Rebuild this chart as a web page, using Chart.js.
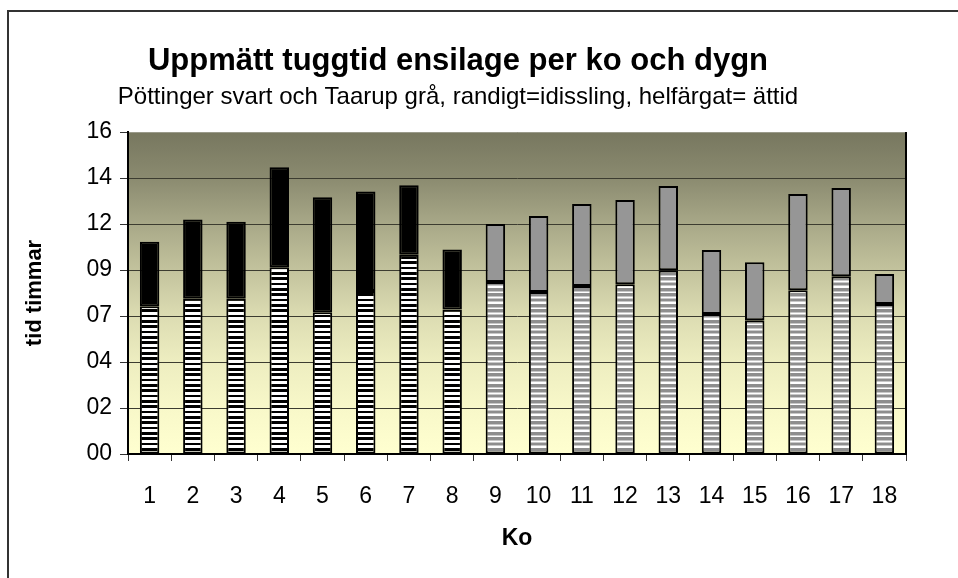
<!DOCTYPE html>
<html>
<head>
<meta charset="utf-8">
<script src="https://cdn.jsdelivr.net/npm/chart.js@4"></script>
<style>
    html, body { margin: 0; padding: 0; background: #ffffff; overflow: hidden; }
    #wrap { width: 958px; height: 578px; }
</style>
</head>
<body>
<div id="wrap"><canvas id="tuggChart" width="958" height="578"></canvas></div>
<script>
// Data (timmar per dygn)
const kor = ['1', '2', '3', '4', '5', '6', '7', '8', '9', '10', '11', '12', '13', '14', '15', '16', '17', '18'];
const idissling = [7.71, 8.10, 8.10, 9.75, 7.40, 8.50, 10.40, 7.54, 8.97, 8.45, 8.76, 8.86, 9.59, 7.30, 6.98, 8.55, 9.28, 7.82];
const attid = [3.36, 4.14, 4.02, 5.21, 5.99, 5.20, 3.62, 3.13, 3.03, 3.97, 4.28, 4.39, 4.39, 3.34, 3.03, 5.01, 4.60, 1.57];
const maskin = ['P', 'P', 'P', 'P', 'P', 'P', 'P', 'P', 'T', 'T', 'T', 'T', 'T', 'T', 'T', 'T', 'T', 'T'];
// Axeln i dygn: 0 - 0.7 med steg 0.1 (= 2.4 h)
const yMax = 16.8;
const yStep = 2.4;

const fontFam = 'Liberation Sans, Arial, sans-serif';

// Randigt monster (horisontella ranger)
const makeStripes = (dark, mid) => {
    const c = document.createElement('canvas');
    c.width = 8;
    c.height = 16;
    const g = c.getContext('2d');
    for (let r = 0; r < 16; r++) {
        const p = (r + 0.5) % 5.333;
        let col = '#ffffff';
        if (p < 2.8) col = dark;
        else if (mid && (p < 3.6 || p > 4.9)) col = mid;
        g.fillStyle = col;
        g.fillRect(0, r, 8, 1);
    }
    return g.createPattern(c, 'repeat');
}

const blackStripes = makeStripes('#000000', null);
const grayStripes = makeStripes('#8e8e8e', '#c8c8c8');

const stripeColors = maskin.map(m => m === 'P' ? blackStripes : grayStripes);
const solidColors = maskin.map(m => m === 'P' ? '#000000' : '#969696');

// Bakgrund i diagramytan + ram
const backgroundPlugin = {
    id: 'bakgrund',
    beforeDraw(chart) {
        const { ctx, chartArea } = chart;
        ctx.save();
        ctx.fillStyle = '#333333';
        ctx.fillRect(7, 10, 2, 600);
        ctx.fillRect(7, 10, 1000, 2);
        const grad = ctx.createLinearGradient(0, chartArea.top, 0, chartArea.bottom);
        grad.addColorStop(0, '#77775f');
        grad.addColorStop(0.14, '#8a8a6f');
        grad.addColorStop(0.28, '#a7a787');
        grad.addColorStop(0.43, '#c3c39d');
        grad.addColorStop(0.57, '#dcdcb2');
        grad.addColorStop(0.71, '#ededc0');
        grad.addColorStop(0.86, '#f8f8c9');
        grad.addColorStop(1, '#ffffd0');
        ctx.fillStyle = grad;
        ctx.fillRect(chartArea.left, chartArea.top, chartArea.right - chartArea.left, chartArea.bottom - chartArea.top);
        ctx.restore();
    },
    afterDraw(chart) {
        const { ctx, chartArea } = chart;
        ctx.save();
        ctx.fillStyle = '#000000';
        ctx.fillRect(chartArea.right - 1, chartArea.top, 2, chartArea.bottom - chartArea.top + 1);
        ctx.restore();
    }
};

const ctx = document.getElementById('tuggChart');

new Chart(ctx, {
    type: 'bar',
    data: {
        labels: kor,
        datasets: [{
            label: 'idissling',
            data: idissling,
            backgroundColor: stripeColors,
            borderColor: '#000000',
            borderWidth: 2,
            borderSkipped: false,
            barPercentage: 0.45,
            categoryPercentage: 1
        }, {
            label: 'ättid',
            data: attid,
            backgroundColor: solidColors,
            borderColor: '#000000',
            borderWidth: 2,
            borderSkipped: false,
            barPercentage: 0.45,
            categoryPercentage: 1
        }]
    },
    options: {
        responsive: false,
        animation: false,
        layout: {
            padding: { left: 10, right: 52, top: 0, bottom: 0 }
        },
        plugins: {
            legend: { display: false },
            tooltip: { enabled: false },
            title: {
                display: true,
                text: 'Uppmätt tuggtid ensilage per ko och dygn',
                color: '#000000',
                font: { family: fontFam, size: 31, weight: 'bold' },
                padding: { top: 43, bottom: 3 }
            },
            subtitle: {
                display: true,
                text: 'Pöttinger svart och Taarup grå, randigt=idissling, helfärgat= ättid',
                color: '#000000',
                font: { family: fontFam, size: 24 },
                padding: { top: 0, bottom: 20 }
            }
        },
        scales: {
            x: {
                stacked: true,
                afterFit: (scale) => { scale.height = 124; },
                border: { color: '#000000', width: 2 },
                grid: {
                    offset: true,
                    drawOnChartArea: false,
                    tickLength: 7,
                    color: '#333333'
                },
                ticks: {
                    color: '#000000',
                    padding: 22,
                    maxRotation: 0,
                    font: { family: fontFam, size: 23 }
                },
                title: {
                    display: true,
                    text: 'Ko',
                    color: '#000000',
                    font: { family: fontFam, size: 23, weight: 'bold' },
                    padding: { top: 0, bottom: 26 }
                }
            },
            y: {
                stacked: true,
                min: 0,
                max: yMax,
                afterFit: (scale) => { scale.width = 118; },
                border: { color: '#000000', width: 2 },
                grid: {
                    color: (c) => c.index === 0 ? '#000000' : (c.tick && c.tick.value >= yMax - 0.01 ? '#9a9a8a' : '#3c3c30'),
                    tickColor: '#333333',
                    tickLength: 8
                },
                ticks: {
                    stepSize: yStep,
                    color: '#000000',
                    padding: 8,
                    font: { family: fontFam, size: 23 },
                    callback: (v) => String(Math.floor(v + 1e-6)).padStart(2, '0')
                },
                title: {
                    display: true,
                    text: 'tid timmar',
                    color: '#000000',
                    font: { family: fontFam, size: 22, weight: 'bold' },
                    padding: { top: 12, bottom: 0 }
                }
            }
        }
    },
    plugins: [backgroundPlugin]
});
</script>
</body>
</html>
